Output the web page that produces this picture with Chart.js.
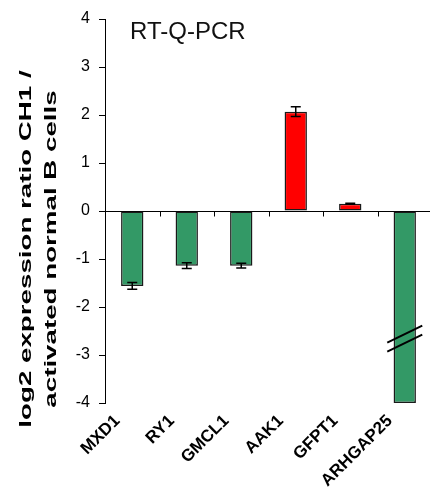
<!DOCTYPE html>
<html>
<head>
<meta charset="utf-8">
<script src="https://cdn.jsdelivr.net/npm/chart.js@4/dist/chart.umd.min.js"></script>
<style>
  html, body { margin: 0; padding: 0; background: #fff; overflow: hidden; }
  #wrap { position: relative; width: 432px; height: 488px; }
</style>
</head>
<body>
<div id="wrap"><canvas id="c"></canvas></div>
<script>
// ---- data ----
const categories = ['MXD1', 'RY1', 'GMCL1', 'AAK1', 'GFPT1', 'ARHGAP25'];
const values = [-1.56, -1.14, -1.14, 2.07, 0.15, -4.0];
const errors = [0.07, 0.06, 0.05, 0.10, 0.01, 0];
const yMin = -4, yMax = 4, yStep = 1;
const breakCategory = 'ARHGAP25';
const breakValue = -2.66;
const chartTitle = 'RT-Q-PCR';
const yTitleLines = ['log2 expression ratio CH1 /', 'activated normal B cells'];

const FONT = '"Liberation Sans", Arial, Helvetica, sans-serif';
const GREEN = '#339966', RED = '#ff0000';

const extras = {
  id: 'extras',
  beforeDatasetsDraw(chart) {
    const { ctx, chartArea, scales: { x, y } } = chart;
    const y0 = Math.round(y.getPixelForValue(0)) + 0.5;
    ctx.save();
    ctx.strokeStyle = '#000';
    ctx.lineWidth = 1;
    ctx.beginPath();
    ctx.moveTo(chartArea.left, y0);
    ctx.lineTo(chartArea.right, y0);
    const w = (chartArea.right - chartArea.left) / categories.length;
    for (let i = 1; i < categories.length; i++) {
      const bx = Math.round(chartArea.left + i * w) + 0.5;
      ctx.moveTo(bx, y0);
      ctx.lineTo(bx, y0 + 5);
    }
    ctx.stroke();
    ctx.restore();
  },
  afterDatasetsDraw(chart) {
    const { ctx, chartArea, scales: { y } } = chart;
    const meta = chart.getDatasetMeta(0);
    ctx.save();
    ctx.strokeStyle = '#000';
    ctx.lineWidth = 1.5;
    values.forEach((v, i) => {
      const e = errors[i];
      if (!e) return;
      const cx = meta.data[i].x;
      const yt = y.getPixelForValue(v + e);
      const yb = y.getPixelForValue(v - e);
      ctx.beginPath();
      ctx.moveTo(cx, yt); ctx.lineTo(cx, yb);
      ctx.moveTo(cx - 5, yt); ctx.lineTo(cx + 5, yt);
      ctx.moveTo(cx - 5, yb); ctx.lineTo(cx + 5, yb);
      ctx.stroke();
    });
    const bi = categories.indexOf(breakCategory);
    if (bi >= 0) {
      const cx = meta.data[bi].x;
      const yc = y.getPixelForValue(breakValue);
      ctx.lineWidth = 2;
      [-4.5, 4.5].forEach(off => {
        ctx.beginPath();
        ctx.moveTo(cx - 17.5, yc + off + 8.5);
        ctx.lineTo(cx + 17.5, yc + off - 8.5);
        ctx.stroke();
      });
    }
    ctx.fillStyle = '#111';
    ctx.font = '24px ' + FONT;
    ctx.textAlign = 'left';
    ctx.textBaseline = 'alphabetic';
    ctx.fillText(chartTitle, chartArea.left + 25, chartArea.top + 20);
    ctx.font = 'bold 17px ' + FONT;
    ctx.fillStyle = '#000';
    ctx.textAlign = 'center';
    ctx.textBaseline = 'middle';
    const xs = [26, 51];
    yTitleLines.forEach((t, i) => {
      ctx.save();
      ctx.translate(xs[i], 249);
      ctx.rotate(-Math.PI / 2);
      ctx.scale(1.63, 1);
      ctx.fillText(t, 0, 0);
      ctx.restore();
    });
    ctx.restore();
  }
};

new Chart(document.getElementById('c'), {
  type: 'bar',
  data: {
    labels: categories,
    datasets: [{
      data: values,
      backgroundColor: values.map(v => v >= 0 ? RED : GREEN),
      borderColor: '#1a1a1a',
      borderWidth: 1.5,
      borderSkipped: false,
      barPercentage: 0.41,
      categoryPercentage: 1.0
    }]
  },
  options: {
    responsive: true,
    maintainAspectRatio: false,
    animation: false,
    layout: { padding: { top: 19, left: 0, right: 0, bottom: 0 } },
    plugins: { legend: { display: false }, tooltip: { enabled: false }, title: { display: false } },
    scales: {
      x: {
        type: 'category',
        offset: true,
        grid: { display: false },
        border: { display: false },
        ticks: {
          color: '#000',
          font: { family: FONT, size: 17, weight: 'bold' },
          minRotation: 45,
          maxRotation: 45,
          autoSkip: false,
          padding: 0,
          labelOffset: -15
        },
        afterFit(scale) { scale.height = 85; }
      },
      y: {
        min: yMin,
        max: yMax,
        ticks: {
          stepSize: yStep,
          color: '#000',
          font: { family: FONT, size: 16 },
          padding: 9
        },
        grid: { drawOnChartArea: false, drawTicks: true, tickLength: 6, color: '#000' },
        border: { display: true, color: '#000', width: 1 },
        afterFit(scale) { scale.width = 105; }
      }
    }
  },
  plugins: [extras]
});
</script>
</body>
</html>
